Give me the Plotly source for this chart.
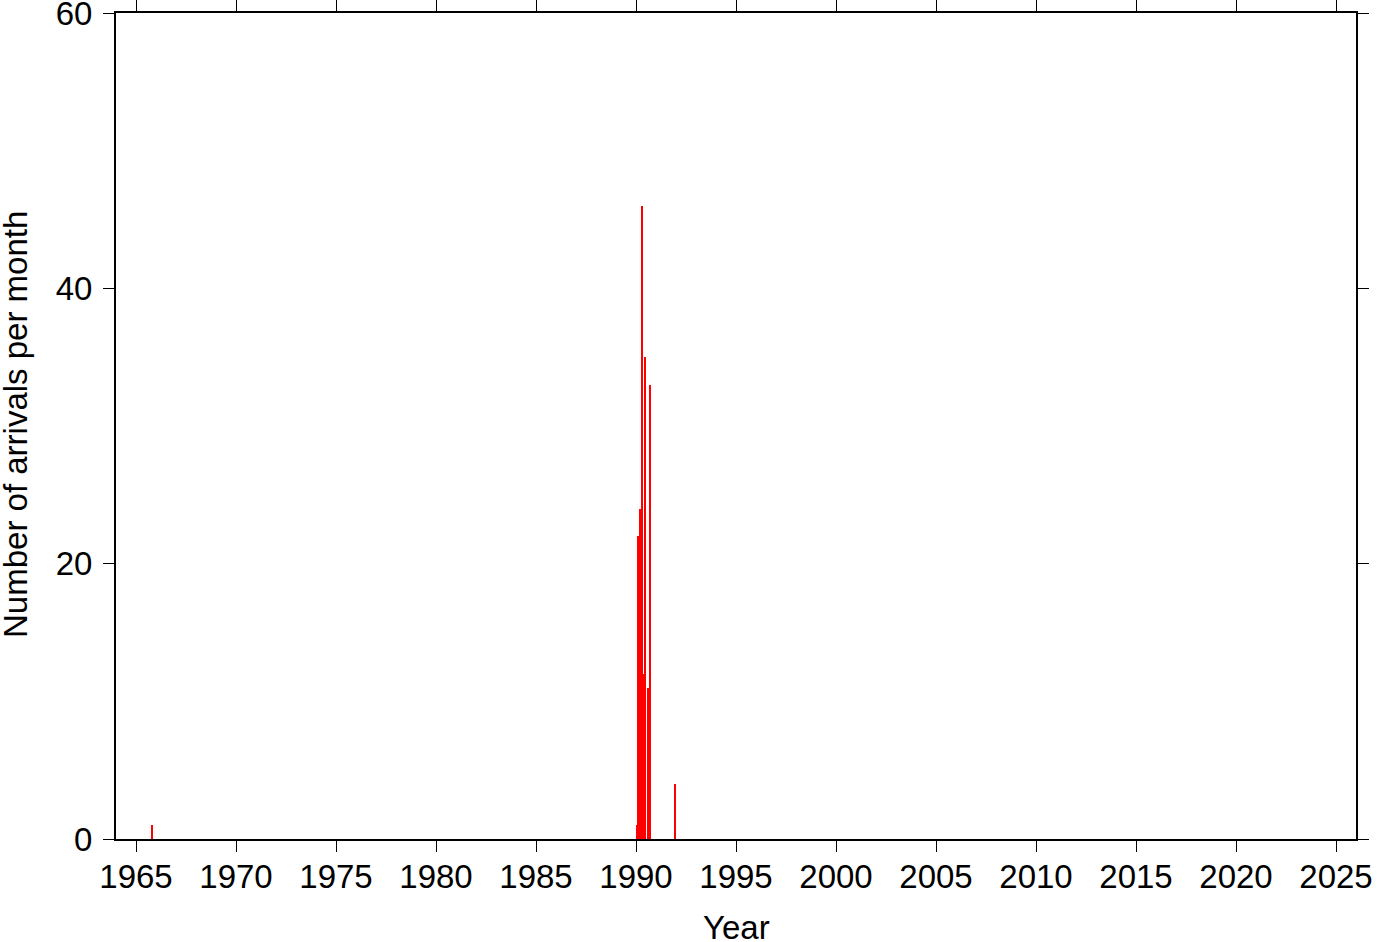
import plotly.graph_objects as go

# Monthly arrival counts (year, month, count)
years = [1965, 1990, 1990, 1990, 1990, 1990, 1990, 1990, 1990, 1991]
months = [10, 1, 2, 3, 4, 5, 6, 8, 9, 12]
counts = [1, 1, 22, 24, 46, 12, 35, 11, 33, 4]

x_ticks = [1965, 1970, 1975, 1980, 1985, 1990, 1995, 2000, 2005, 2010, 2015, 2020, 2025]
y_ticks = [0, 20, 40, 60]

x_title = "Year"
y_title = "Number of arrivals per month"

xdec = [y + (m - 0.5) / 12 for y, m in zip(years, months)]

font_family = "Liberation Sans, Arial, Helvetica, sans-serif"
fsize = 33

W, H = 1382, 942
ML, MR, MT, MB = 116, 26, 13, 103
PW, PH = W - ML - MR, H - MT - MB

fig = go.Figure(
    go.Bar(
        x=xdec,
        y=counts,
        width=1 / 12,
        marker=dict(color="#ff0000", line=dict(width=0)),
    )
)

axis_common = dict(
    showline=True,
    linecolor="black",
    linewidth=2,
    mirror="ticks",
    ticks="outside",
    ticklen=11,
    tickwidth=1.2,
    tickcolor="black",
    showgrid=False,
    zeroline=False,
    automargin=False,
    ticklabeloverflow="allow",
    tickfont=dict(family=font_family, size=fsize, color="black"),
)

fig.update_layout(
    width=W,
    height=H,
    margin=dict(l=ML, r=MR, t=MT, b=MB),
    paper_bgcolor="white",
    plot_bgcolor="white",
    showlegend=False,
    bargap=0,
    xaxis=dict(
        range=[1964, 2026],
        tickvals=x_ticks,
        ticktext=[str(v) for v in x_ticks],
        ticklabelstandoff=-4,
        **axis_common,
    ),
    yaxis=dict(
        range=[0, 60],
        tickvals=y_ticks,
        ticktext=[str(v) for v in y_ticks],
        ticklabelstandoff=4,
        **axis_common,
    ),
    annotations=[
        dict(
            text=x_title, xref="paper", yref="paper",
            x=0.5, y=(MB - (H - 928)) / PH * -1 if False else -(928 - (H - MB)) / PH,
            xanchor="center", yanchor="middle", showarrow=False,
            font=dict(family=font_family, size=fsize, color="black"),
        ),
        dict(
            text=y_title, xref="paper", yref="paper",
            x=(15 - ML) / PW, y=((H - MB) - 425) / PH,
            xanchor="center", yanchor="middle", textangle=-90, showarrow=False,
            font=dict(family=font_family, size=fsize, color="black"),
        ),
    ],
)

fig.write_html(
    "out.html",
    config={"displayModeBar": False},
    post_script="document.body.style.margin='0';document.body.style.overflow='hidden';",
)
